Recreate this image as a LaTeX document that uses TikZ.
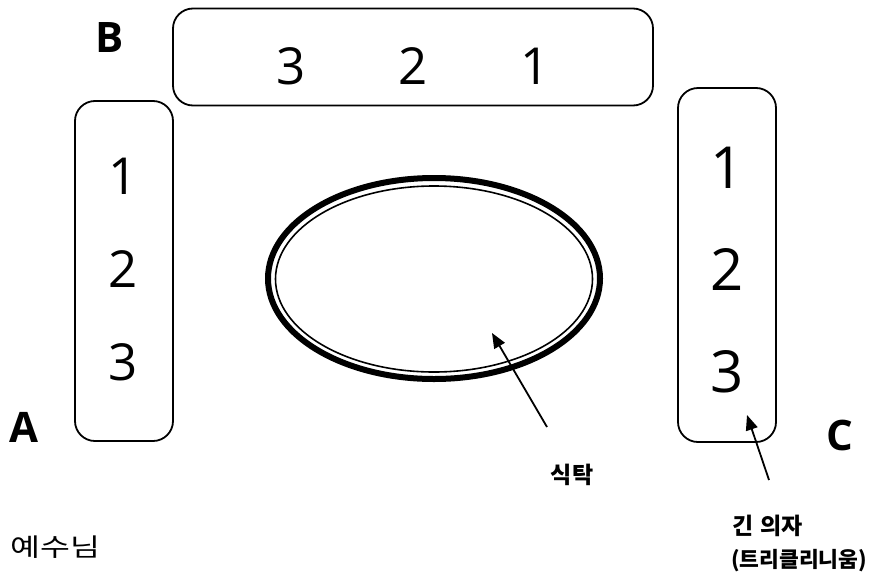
\documentclass[tikz,border=0pt]{standalone}
\usepackage{fontspec}
\usepackage{graphicx}
\setmainfont{Open Sans}
\newfontfamily\kr{Noto Sans CJK KR}
\usetikzlibrary{arrows.meta}
\tikzset{
  couch/.style={draw=black, line width=1.8pt, rounded corners=20pt, inner sep=0pt},
  seatnum/.style={font=\fontsize{51}{51}\selectfont, inner sep=0pt, anchor=center},
  seatnumC/.style={font=\fontsize{58}{58}\selectfont, inner sep=0pt, anchor=center},
  sidelabel/.style={font=\fontsize{42}{42}\selectfont\bfseries, inner sep=0pt},
  pointer/.style={line width=1.8pt, -{Triangle[length=15pt,width=12pt]}},
  krlabel/.style={font=\kr\fontsize{23}{28}\selectfont\bfseries, inner sep=0pt}
}
\begin{document}
\begin{tikzpicture}[x=1pt, y=-1pt]
\useasboundingbox (0,0) rectangle (874,573);

% couches
\node[couch, minimum width=480pt, minimum height=97pt] (couchB) at (413,57) {};
\node[couch, minimum width=98pt, minimum height=340pt] (couchA) at (124,271) {};
\node[couch, minimum width=98pt, minimum height=354pt] (couchC) at (727,265) {};

% seat numbers
\node[seatnum] (b3) at (291,66) {3};
\node[seatnum] (b2) at (413,66) {2};
\node[seatnum] (b1) at (535,66) {1};
\node[seatnum] (a1) at (123,176) {1};
\node[seatnum] (a2) at (123,269) {2};
\node[seatnum] (a3) at (123,362) {3};
\node[seatnumC] (c1) at (727,168) {1};
\node[seatnumC] (c2) at (727,269) {2};
\node[seatnumC] (c3) at (727,372) {3};

% side letters
\node[sidelabel] (lblA) at (24,427) {A};
\node[sidelabel] (lblB) at (110,38) {B};
\node[sidelabel] (lblC) at (840,435) {C};

% table
\draw[line width=6pt] (434,278.5) ellipse [x radius=166, y radius=100.5];
\draw[line width=1.6pt] (434,279) ellipse [x radius=158.5, y radius=93];
\coordinate (tableTip) at (492,333);
\coordinate (tableTail) at (547,427);
\draw[pointer] (tableTail) -- (tableTip);
\node[krlabel] (tableLbl) at (572,475) {식탁};

% couch C pointer
\coordinate (couchTip) at (747,415);
\coordinate (couchTail) at (769,480);
\draw[pointer] (couchTail) -- (couchTip);
\node[krlabel, anchor=west] (couchLbl1) at (732,526) {긴\hspace{0.3em}의자};
\node[krlabel, anchor=west, font=\kr\fontsize{21.5}{26}\selectfont\bfseries] (couchLbl2) at (731,561) {(트리클리니움)};

% host
\node[font=\kr\fontsize{25}{25}\selectfont, inner sep=0pt, anchor=west] (jesus) at (10,547) {\scalebox{1.3}[1]{예수님}};
\end{tikzpicture}
\end{document}
